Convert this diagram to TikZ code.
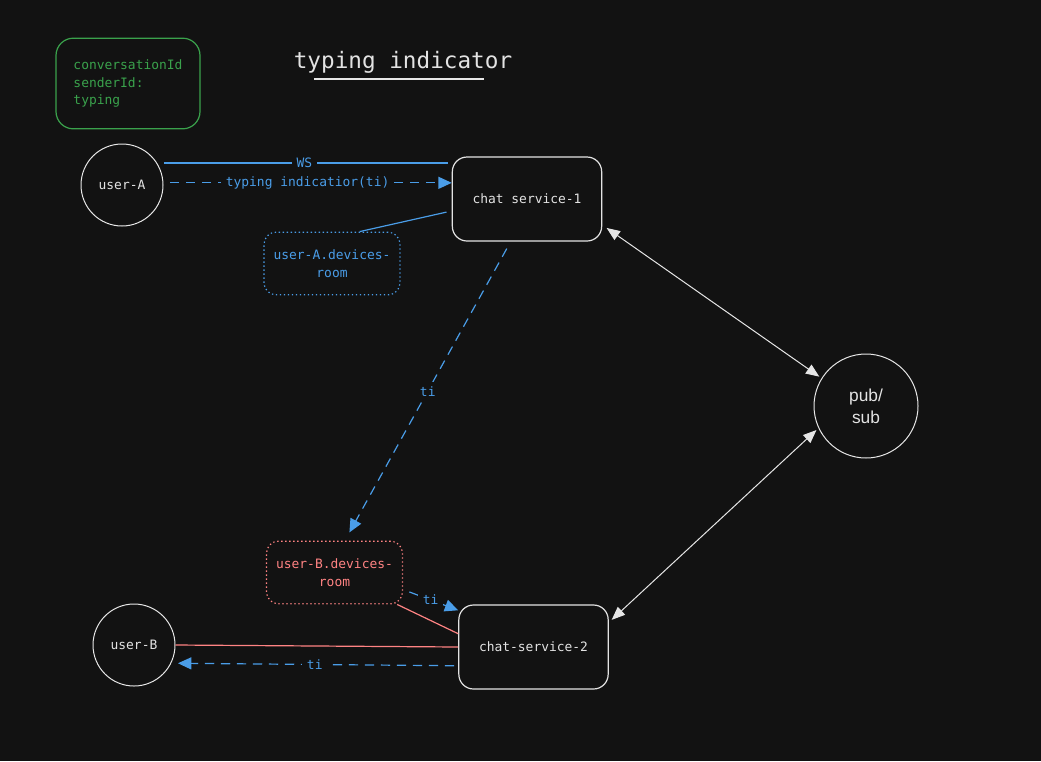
\documentclass[tikz,border=0pt]{standalone}
\usepackage{fontspec}
\setmonofont{DejaVu Sans Mono}
\newfontfamily\pubsubfont{Liberation Sans}
\usetikzlibrary{arrows.meta,positioning,calc}

\definecolor{bg}{HTML}{121212}
\definecolor{fg}{HTML}{E3E3E3}
\definecolor{tiblue}{HTML}{4A9DE8}
\definecolor{roomred}{HTML}{FF8383}
\definecolor{msggreen}{HTML}{3AA24C}

\begin{document}
\begin{tikzpicture}[x=0.75pt,y=-0.75pt,line width=0.9pt,>={Triangle[length=10pt,width=9pt]},font=\ttfamily\fontsize{9.7}{13.2}\selectfont,
    user node/.style={circle,draw=fg!85,line width=0.75pt,text=fg,minimum size=61.5pt,inner sep=0pt},
    service node/.style={rectangle,rounded corners=11pt,draw=fg,text=fg,minimum width=112pt,minimum height=63pt},
    room node/.style={rectangle,rounded corners=9pt,draw,dash pattern=on 1pt off 2pt,minimum width=102pt,minimum height=47pt,align=center},
    ti line/.style={tiblue,dash pattern=on 7pt off 5pt},
    ti label/.style={fill=bg,inner sep=3.5pt,text=tiblue},
    pubsub line/.style={<->,draw=fg!90,line width=0.75pt,>={Triangle[length=10pt,width=8pt]}}]

    \fill[bg] (0,0) rectangle (1041,761);
    \useasboundingbox (0,0) rectangle (1041,761);

    \node[rectangle,rounded corners=13pt,draw=msggreen,text=msggreen,minimum width=108pt,minimum height=68pt,align=left] (msg) at (128,83.5) {conversationId\\senderId:\\typing};
    \node[text=fg,font=\ttfamily\fontsize{17}{20}\selectfont] (title) at (403,62) {typing indicator};
    \draw[fg!85] (314,79) -- (484,79);

    \node[user node] (ua) at (122,185) {user-A};
    \node[service node] (cs1) at (527,199) {chat service-1};
    \node[room node,draw=tiblue,text=tiblue] (ra) at (332,263.5) {user-A.devices-\\room};
    \node[circle,draw=fg!85,line width=0.75pt,text=fg,minimum size=78pt,inner sep=0pt,align=center,font=\pubsubfont\fontsize{13}{16.5}\selectfont] (ps) at (866,406) {pub/\\sub};
    \node[room node,draw=roomred,text=roomred] (rb) at (334.5,572.5) {user-B.devices-\\room};
    \node[service node] (cs2) at (533.5,647) {chat-service-2};
    \node[user node] (ub) at (134,645) {user-B};

    % user-A <-> chat service-1
    \draw[tiblue,shorten <=5pt,shorten >=3pt] (ua.32) -- (ua.32 -| cs1.west) node[midway,ti label] {WS};
    \draw[ti line,->,shorten <=5pt] (ua.3) -- (ua.3 -| cs1.west) node[midway,ti label] {typing indicatior(ti)};
    \draw[tiblue,shorten <=4pt] (cs1.189) to (ra.49);
    \draw[ti line,->,shorten <=6pt,shorten >=7pt] (cs1.249) to node[midway,ti label] {ti} (rb.72);

    % pub/sub
    \draw[pubsub line,shorten <=4pt,shorten >=2pt] (cs1.-19) to (ps.148);
    \draw[pubsub line,shorten <=3pt,shorten >=2pt] (cs2.18) to (ps.205);

    % chat-service-2 -> user-B
    \draw[ti line,->,shorten <=5pt] (rb.-14) to node[midway,ti label] {ti} (cs2.154);
    \draw[roomred] (rb.-27) to (cs2.170);
    \draw[roomred] (ub.east) to (cs2.west);
    \draw[ti line,->,shorten <=3pt,shorten >=5pt] (cs2.194) to node[midway,ti label] {ti} (ub.-26);

    ;
\end{tikzpicture}
\end{document}
